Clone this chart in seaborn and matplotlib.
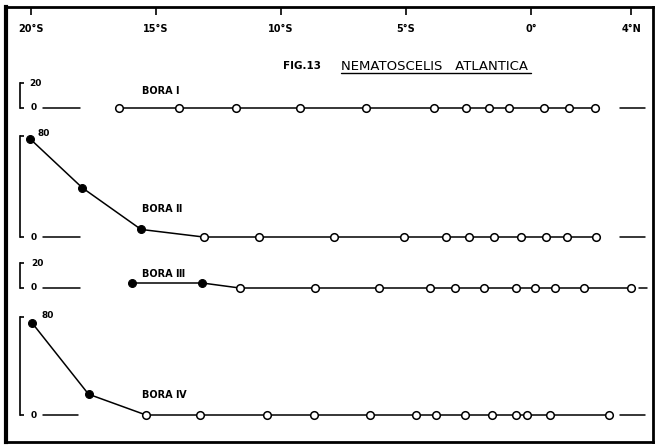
import matplotlib
matplotlib.use("Agg")
import matplotlib.pyplot as plt
import seaborn as sns
import pandas as pd
from matplotlib.lines import Line2D

sns.set_theme(style="white")
plt.rcParams["font.family"] = ["DejaVu Sans"]

W, H = 656, 446

# ---------------- data ----------------
lat_ticks = [-20, -15, -10, -5, 0, 4]
lat_tick_labels = ["20°S", "15°S", "10°S", "5°S", "0°", "4°N"]

bora1_lat = [-16.5, -14.1, -11.8, -9.25, -6.6, -3.9, -2.6, -1.7, -0.9, 0.5, 1.5, 2.55]
bora1_val = [0, 0, 0, 0, 0, 0, 0, 0, 0, 0, 0, 0]

bora2_lat = [-20.05, -17.95, -15.6, -13.1, -10.9, -7.9, -5.1, -3.4, -2.5, -1.5, -0.4, 0.6, 1.45, 2.6]
bora2_val = [78, 39, 6, 0, 0, 0, 0, 0, 0, 0, 0, 0, 0, 0]

bora3_lat = [-15.95, -13.15, -11.65, -8.65, -6.1, -4.05, -3.05, -1.9, -0.6, 0.15, 0.95, 2.1, 4.0]
bora3_val = [4, 4, 0, 0, 0, 0, 0, 0, 0, 0, 0, 0, 0]

bora4_lat = [-19.95, -17.7, -15.4, -13.25, -10.55, -8.7, -6.45, -4.6, -3.8, -2.65, -1.55, -0.6, -0.15, 0.75, 3.1]
bora4_val = [75, 17, 0, 0, 0, 0, 0, 0, 0, 0, 0, 0, 0, 0, 0]

cruise_names = ["BORA Ⅰ", "BORA Ⅱ", "BORA Ⅲ", "BORA Ⅳ"]
scale_tops = [20, 80, 20, 80]
left_stubs = [(-19.52, -18.04), (-19.52, -18.04), (-19.52, -18.04), (-19.52, -18.12)]
right_stubs = [(3.56, 4.56), (3.56, 4.56), (4.3, 4.64), (3.56, 4.56)]

series = [(bora1_lat, bora1_val), (bora2_lat, bora2_val),
          (bora3_lat, bora3_val), (bora4_lat, bora4_val)]

# ---------------- layout (pixels) ----------------
frame_l, frame_r, frame_t, frame_b = 6, 653, 7, 442
xlim = (-21.0, 4.88)
panel_px = [(108, 83), (237, 136), (288, 263), (415, 317)]  # (zero y, top y)
bracket_lat = -20.44
name_px = [(142, 91), (142, 209), (142, 274), (142, 395)]
top_label_px = [(29, 83), (38, 134), (31, 264), (41, 315)]
zero_label_px = [(31, 108), (31, 237), (31, 288), (31, 415)]

fig = plt.figure(figsize=(W / 100, H / 100), dpi=100)
fig.patch.set_facecolor("white")


def fx(x):
    return x / W


def fy(y):
    return 1 - y / H


# main frame axes
ax = fig.add_axes([fx(frame_l), fy(frame_b), fx(frame_r - frame_l), (frame_b - frame_t) / H])
ax.set_xlim(*xlim)
ax.set_ylim(0, 1)
ax.set_facecolor("none")
for s in ax.spines.values():
    s.set_visible(True)
    s.set_color("black")
    s.set_linewidth(2.0)
ax.spines["left"].set_linewidth(3.0)
ax.set_yticks([])
ax.set_xticks(lat_ticks)
ax.set_xticklabels(lat_tick_labels)
ax.tick_params(axis="x", top=True, bottom=False, labeltop=True, labelbottom=False,
               direction="in", length=6, width=1.2, color="black", pad=-19.4,
               labelsize=7, labelcolor="black")
for lbl in ax.get_xticklabels():
    lbl.set_fontweight("bold")

# panels
for i, ((lat, val), (zpx, tpx)) in enumerate(zip(series, panel_px)):
    pax = fig.add_axes([fx(frame_l), fy(zpx), fx(frame_r - frame_l), (zpx - tpx) / H])
    pax.set_facecolor("none")
    pax.set_xlim(*xlim)
    pax.set_ylim(0, scale_tops[i])
    for k in ["top", "right", "bottom"]:
        pax.spines[k].set_visible(False)
    pax.spines["left"].set_position(("data", bracket_lat))
    pax.spines["left"].set_color("black")
    pax.spines["left"].set_linewidth(1.2)
    pax.set_xticks([])
    pax.set_yticks([0, scale_tops[i]])
    pax.tick_params(axis="y", left=True, direction="in", length=3, width=1.2,
                    color="black", labelleft=False)

    df = pd.DataFrame({"lat": lat, "val": val})
    df["filled"] = df["val"] > 0
    sns.lineplot(data=df, x="lat", y="val", ax=pax, color="black", lw=1.1,
                 sort=True, estimator=None, clip_on=False, zorder=2)
    for (a, b) in [left_stubs[i], right_stubs[i]]:
        pax.plot([a, b], [0, 0], color="black", lw=1.1, clip_on=False)
    sns.scatterplot(data=df[df["filled"]], x="lat", y="val", ax=pax, color="black",
                    edgecolor="black", s=32, linewidth=0.8, clip_on=False, zorder=4)
    sns.scatterplot(data=df[~df["filled"]], x="lat", y="val", ax=pax, color="white",
                    edgecolor="black", s=30, linewidth=1.1, clip_on=False, zorder=4)
    pax.set_xlabel("")
    pax.set_ylabel("")

    nx, ny = name_px[i]
    fig.text(fx(nx), fy(ny), cruise_names[i], fontsize=7, fontweight="bold",
             ha="left", va="center", color="black")
    tx, ty = top_label_px[i]
    fig.text(fx(tx), fy(ty), str(scale_tops[i]), fontsize=6.5, fontweight="bold",
             ha="left", va="center", color="black")
    zx, zy = zero_label_px[i]
    fig.text(fx(zx), fy(zy), "0", fontsize=6.5, fontweight="bold",
             ha="left", va="center", color="black")

# title
fig.text(fx(283), fy(66), "FIG.13", fontsize=7.5, fontweight="bold",
         ha="left", va="center", color="black")
fig.text(fx(341), fy(66), "NEMATOSCELIS   ATLANTICA", fontsize=9.5,
         ha="left", va="center", color="black")
fig.add_artist(Line2D([fx(341), fx(531)], [fy(73), fy(73)], color="black", lw=1.0))

fig.savefig("out.png", dpi=100, facecolor="white")
